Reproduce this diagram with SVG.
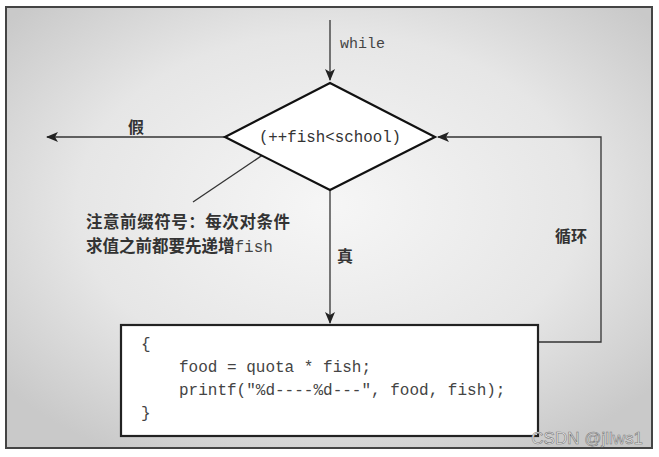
<svg xmlns="http://www.w3.org/2000/svg" width="659" height="457" viewBox="0 0 659 457">
<defs>
<radialGradient id="bg" cx="0.5" cy="0.45" r="0.65">
<stop offset="0" stop-color="#f6f6f6"/>
<stop offset="0.6" stop-color="#e6e6e6"/>
<stop offset="1" stop-color="#c9c9c9"/>
</radialGradient>
<marker id="ah" viewBox="0 0 12 10" refX="11" refY="5" markerWidth="12" markerHeight="10" markerUnits="userSpaceOnUse" orient="auto">
<path d="M0,0 L12,5 L0,10 L3,5 Z" fill="#222"/>
</marker>
<style>
.mono{font-family:"Liberation Mono","DejaVu Sans Mono",monospace;fill:#444}
.cjk{font-family:"Noto Sans CJK SC",sans-serif;font-weight:bold;fill:#333}
.conn{stroke:#333;stroke-width:1.3;fill:none}
</style>
</defs>
<rect x="0" y="0" width="659" height="457" fill="#fff"/>
<rect id="frame" x="6" y="7" width="646" height="441" fill="url(#bg)" stroke="#444" stroke-width="2"/>
<g id="connectors">
<line class="conn" x1="330" y1="20" x2="330" y2="80" marker-end="url(#ah)"/>
<line class="conn" x1="225" y1="137" x2="47" y2="137" marker-end="url(#ah)"/>
<line class="conn" x1="330" y1="190" x2="330" y2="323" marker-end="url(#ah)"/>
<polyline class="conn" points="538,342 601,342 601,137 438,137" marker-end="url(#ah)"/>
<line class="conn" x1="276" y1="146" x2="193" y2="202" stroke-width="1"/>
</g>
<g id="labels">
<text class="mono" x="340" y="48" font-size="15">while</text>
<text class="cjk" x="136" y="133" font-size="16" text-anchor="middle">假</text>
<text class="cjk" x="345" y="262" font-size="16" text-anchor="middle">真</text>
<text class="cjk" x="571" y="242" font-size="16" text-anchor="middle">循环</text>
</g>
<g id="decision">
<polygon points="330,83 435,137 330,190 225,137" fill="#fff" stroke="#111" stroke-width="2.2"/>
<text class="mono" x="330" y="142" font-size="15.8" text-anchor="middle" style="fill:#333">(++fish&lt;school)</text>
</g>
<g id="note">
<text class="cjk" x="86" y="228" font-size="16.5" textLength="204">注意前缀符号：每次对条件</text>
<text class="cjk" x="86" y="252" font-size="16.5">求值之前都要先递增<tspan class="mono" font-weight="normal" font-size="16">fish</tspan></text>
</g>
<g id="body">
<rect x="121" y="325" width="417" height="111" fill="#fff" stroke="#222" stroke-width="2.2"/>
<text class="mono" x="141" y="349" font-size="16">{</text>
<text class="mono" x="179" y="372" font-size="16">food = quota * fish;</text>
<text class="mono" x="179" y="395" font-size="16">printf("%d----%d---", food, fish);</text>
<text class="mono" x="141" y="418" font-size="16">}</text>
</g>
<text id="watermark" x="643" y="444" font-size="17" text-anchor="end" font-family="Liberation Sans, Arial, sans-serif" fill="#f2f2f2" stroke="#777" stroke-width="0.6">CSDN @jllws1</text>
</svg>
